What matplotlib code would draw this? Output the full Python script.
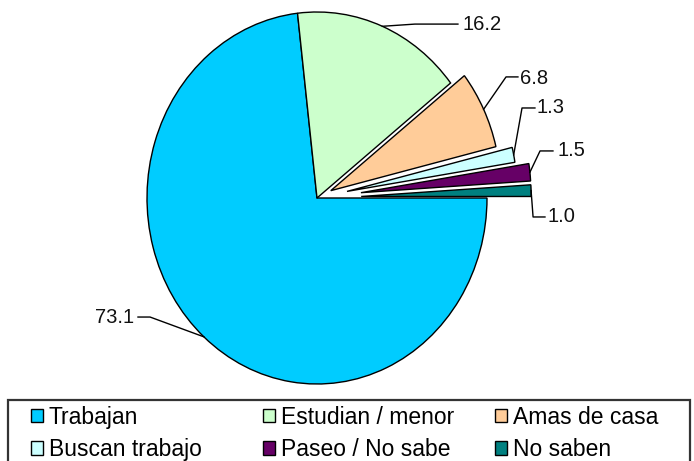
import numpy as np
import matplotlib
matplotlib.use('Agg')
import matplotlib.pyplot as plt

# datos
categorias = ['Trabajan', 'Estudian / menor', 'Amas de casa',
              'Buscan trabajo', 'Paseo / No sabe', 'No saben']
valores = [73.1, 16.2, 6.8, 1.3, 1.5, 1.0]
etiquetas = ['73.1', '16.2', '6.8', '1.3', '1.5', '1.0']

# estilo
colores = ['#00CCFF', '#CCFFCC', '#FFCC99', '#CCFFFF', '#660066', '#008080']
separacion = [0, 0, 0.09, 0.18, 0.26, 0.26]

# posiciones de las lineas guia (codo, fin) y del texto, en unidades del eje
codos = [(-0.982, -0.640), (0.576, 0.935), (1.112, 0.651),
         (1.206, 0.484), (1.312, 0.253), (1.271, -0.102)]
fines = [(-1.053, -0.640), (0.829, 0.935), (1.182, 0.651),
         (1.282, 0.484), (1.388, 0.253), (1.341, -0.102)]
textos = [(-1.076, -0.640, 'right'), (0.853, 0.935, 'left'), (1.194, 0.645, 'left'),
          (1.294, 0.489, 'left'), (1.412, 0.253, 'left'), (1.353, -0.102, 'left')]

plt.rcParams['font.family'] = ['Liberation Sans', 'DejaVu Sans']

W, H = 694, 461
fig = plt.figure(figsize=(W / 100, H / 100), dpi=100)
ax = fig.add_axes([0, 0, 1, 1])

cx, cy, rx, ry = 317, 198, 170, 186
wedges, _ = ax.pie(valores, colors=colores, explode=separacion, startangle=0,
                   counterclock=False,
                   wedgeprops=dict(edgecolor='black', linewidth=1.0))
ax.set_aspect('auto')
ax.set_xlim(-cx / rx, (W - cx) / rx)
ax.set_ylim(-(H - cy) / ry, cy / ry)
ax.axis('off')

for i, w in enumerate(wedges):
    mid = np.deg2rad((w.theta1 + w.theta2) / 2)
    px = w.center[0] + w.r * np.cos(mid)
    py = w.center[1] + w.r * np.sin(mid)
    ax.plot([px, codos[i][0], fines[i][0]], [py, codos[i][1], fines[i][1]],
            color='black', linewidth=1.0, clip_on=False)
    tx, ty, ha = textos[i]
    ax.text(tx, ty, etiquetas[i], fontsize=14.5, ha=ha, va='center', color='#111111')

# marco de la leyenda
marco = plt.Rectangle((8 / W, -0.05), 682 / W, 1 - 400 / H + 0.05,
                      transform=fig.transFigure, fill=False,
                      edgecolor='#333333', linewidth=1.6)
fig.add_artist(marco)

# leyenda en tres columnas (filas: 1ra fila 0,1,2 ; 2da fila 3,4,5)
columnas_x = [26, 258, 490]
for c in range(3):
    idx = [c, c + 3]
    leg = fig.legend([wedges[j] for j in idx], [categorias[j] for j in idx],
                     loc='upper left', bbox_to_anchor=(columnas_x[c] / W, 1 - 401 / H),
                     frameon=False, fontsize=16.5, handlelength=0.55, handleheight=0.55,
                     handletextpad=0.25, labelspacing=0.42, borderpad=0.2,
                     borderaxespad=0)

fig.savefig('out.png', dpi=100)
